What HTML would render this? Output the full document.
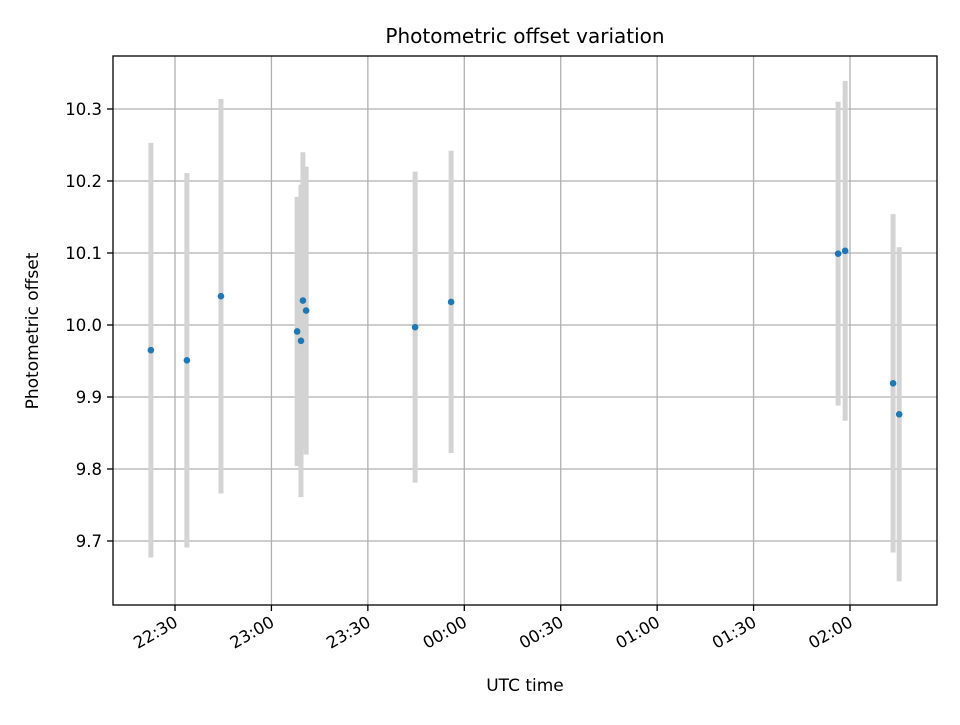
<!DOCTYPE html>
<html><head><meta charset="utf-8"><style>
body{margin:0;background:#fff;}
svg{font-family:"DejaVu Sans","Liberation Sans",sans-serif;}
</style></head><body>
<svg id="chart" width="960" height="720" viewBox="0 0 960 720" xmlns="http://www.w3.org/2000/svg">
<rect width="960" height="720" fill="#fff"/>
<text x="525" y="43" text-anchor="middle" font-size="20" fill="#000">Photometric offset variation</text>
<g id="grid"></g><g id="bars"></g><g id="points"></g><g id="axes"></g>
<rect x="113" y="56" width="824" height="549" fill="none" stroke="#000" stroke-width="1.3"/>
<text x="525" y="691" text-anchor="middle" font-size="17" fill="#000">UTC time</text>
<text transform="translate(38,331) rotate(-90)" text-anchor="middle" font-size="17" fill="#000">Photometric offset</text>
</svg>
<script>
// minutes after 22:30
const times = [-7.5, 3.7, 14.3, 38.0, 39.2, 39.8, 40.8, 74.7, 85.9, 206.3, 208.5, 223.4, 225.3];
const offsets = [9.965, 9.951, 10.040, 9.991, 9.978, 10.034, 10.020, 9.997, 10.032, 10.099, 10.103, 9.919, 9.876];
const errors = [0.288, 0.260, 0.274, 0.187, 0.217, 0.206, 0.200, 0.216, 0.210, 0.211, 0.236, 0.235, 0.232];
const xTickMinutes = [0, 30, 60, 90, 120, 150, 180, 210];
const xTickLabels = ["22:30","23:00","23:30","00:00","00:30","01:00","01:30","02:00"];
const yTicks = [9.7, 9.8, 9.9, 10.0, 10.1, 10.2, 10.3];

const NS = "http://www.w3.org/2000/svg";
const xs = m => 175 + m * (675 / 210);
const ys = v => 325 - (v - 10.0) * 720;
function mk(tag, attrs, parent){ const e=document.createElementNS(NS,tag); for(const k in attrs) e.setAttribute(k,attrs[k]); document.getElementById(parent).appendChild(e); return e; }

xTickMinutes.forEach((m,i)=>{
  const x = xs(m);
  const g = mk("line",{x1:x,x2:x,y1:56,y2:605,stroke:"#b0b0b0","stroke-width":1.3},"grid");
  
  
  const t = mk("line",{x1:x,x2:x,y1:605,y2:611,stroke:"#000","stroke-width":1.3},"axes");
  
  
  const l = mk("text",{transform:`translate(${x-2},${615}) rotate(-30)`,"text-anchor":"end","dominant-baseline":"hanging","font-size":"16.5",fill:"#000"},"axes");
  l.textContent = xTickLabels[i];
  
  
});
yTicks.forEach(v=>{
  const y = ys(v);
  const g = mk("line",{x1:113,x2:937,y1:y,y2:y,stroke:"#b0b0b0","stroke-width":1.3},"grid");
  
  
  const t = mk("line",{x1:107,x2:113,y1:y,y2:y,stroke:"#000","stroke-width":1.3},"axes");
  
  
  const l = mk("text",{x:102,y:y+6,"text-anchor":"end","font-size":"16.5",fill:"#000"},"axes");
  l.textContent = v.toFixed(1);
  
  
});
times.forEach((m,i)=>{
  const x = xs(m);
  const b = mk("line",{x1:x,x2:x,y1:ys(offsets[i]+errors[i]),y2:ys(offsets[i]-errors[i]),stroke:"#d3d3d3","stroke-width":5},"bars");
  
  
});
times.forEach((m,i)=>{
  const p = mk("circle",{cx:xs(m),cy:ys(offsets[i]),r:3.3,fill:"#1f77b4"},"points");
  
  
});
</script>
</body></html>
